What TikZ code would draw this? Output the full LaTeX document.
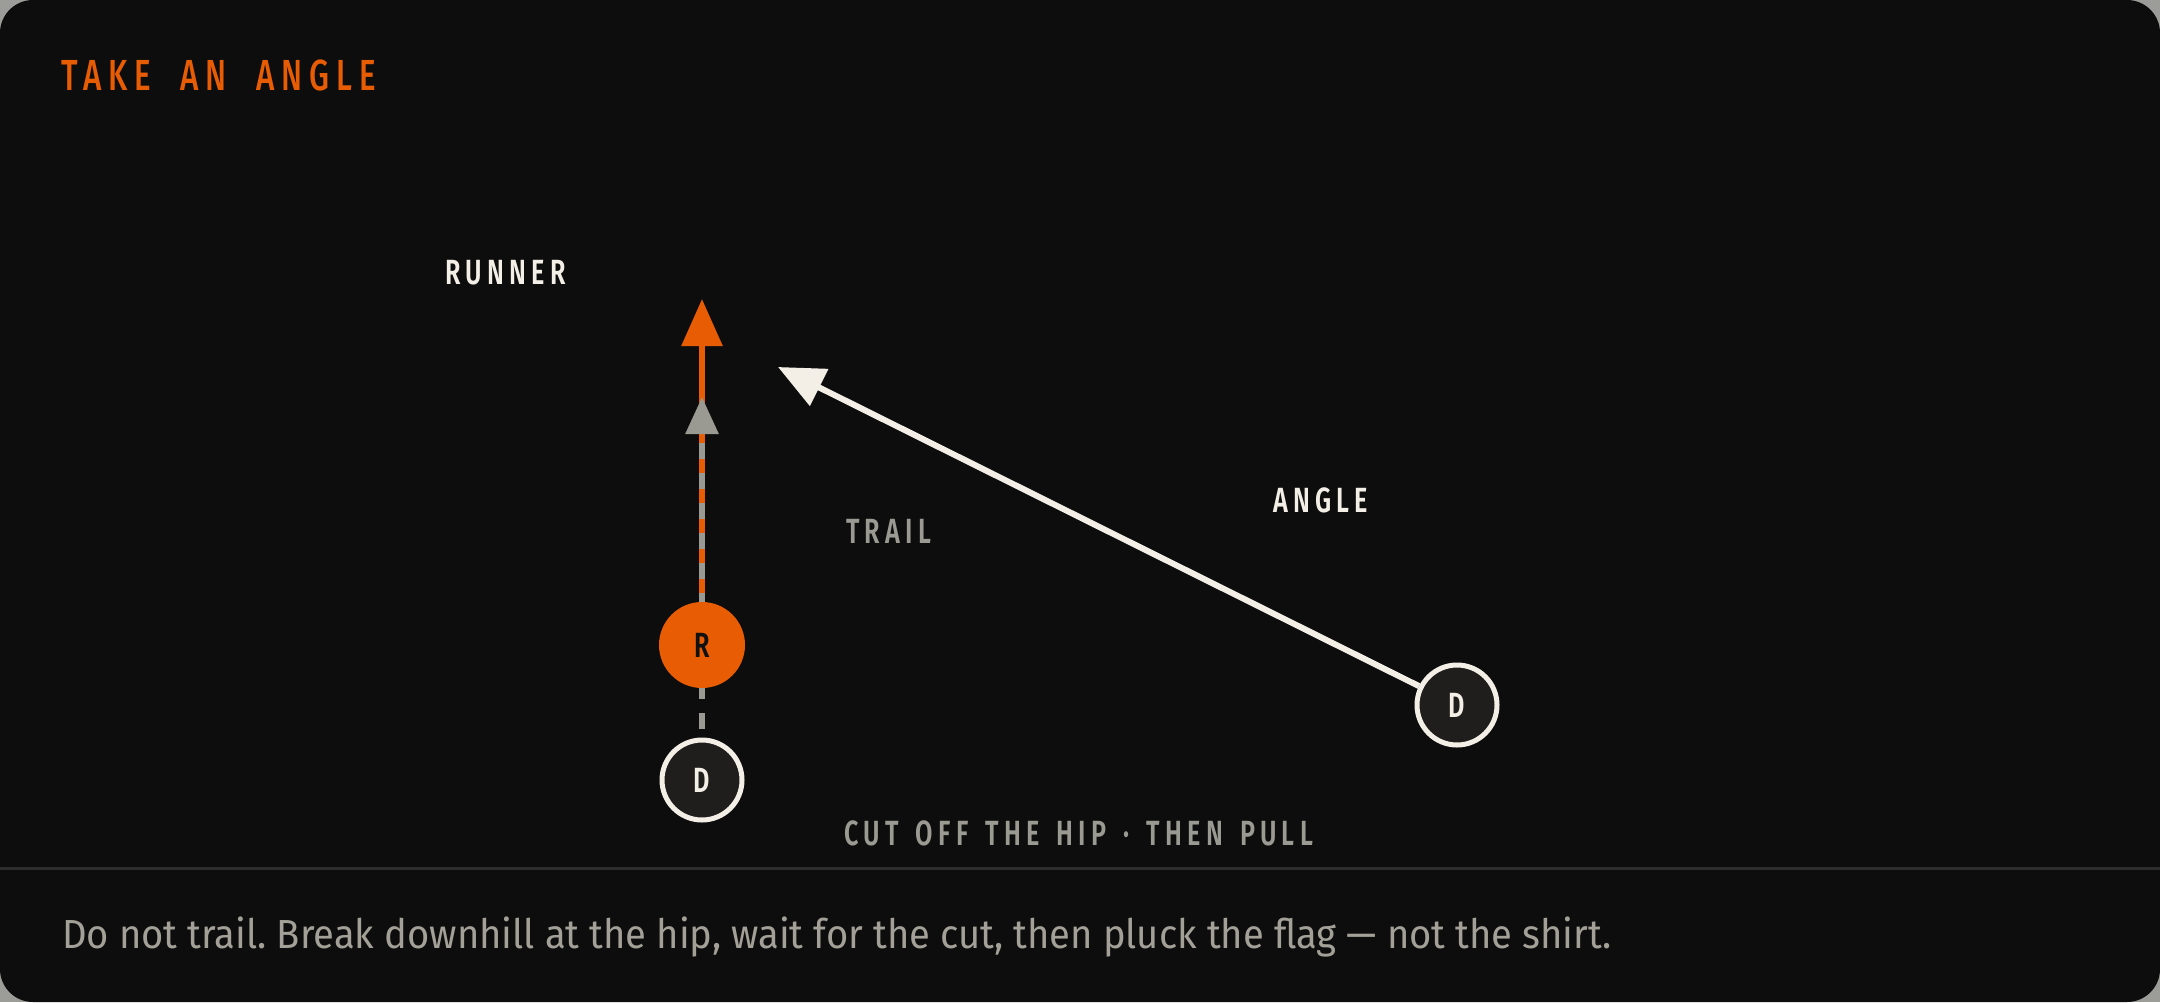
\documentclass[tikz,border=0pt]{standalone}
\usepackage{fontspec}
\usetikzlibrary{arrows.meta}
\setmainfont{Fira Sans}
\newfontfamily\titlefont[FakeStretch=0.72,LetterSpace=16,WordSpace=2.0]{Fira Sans Medium}
\newfontfamily\labfont[FakeStretch=0.72,LetterSpace=15,WordSpace=1.5]{Fira Sans SemiBold}
\newfontfamily\disfont[FakeStretch=0.72]{Fira Sans SemiBold}
\newfontfamily\bodyfont[FakeStretch=0.94]{Fira Sans}
\definecolor{cardbg}{HTML}{0D0D0D}
\definecolor{outerbg}{HTML}{9C9C98}
\definecolor{accent}{HTML}{E85D04}
\definecolor{cream}{HTML}{F3EFE7}
\definecolor{graytrail}{HTML}{9A9A92}
\definecolor{dfill}{HTML}{1F1E1C}
\definecolor{divider}{HTML}{2C2C2C}
\definecolor{bodytext}{HTML}{A3A098}
\definecolor{darklabel}{HTML}{111111}
\tikzset{
  lbl/.style={anchor=base west,inner sep=0pt,font=\labfont\fontsize{35}{40}\selectfont},
  runnerdisc/.style={circle,fill=accent,minimum size=86pt,inner sep=0pt,text=darklabel,font=\disfont\fontsize{35}{40}\selectfont},
  defdisc/.style={circle,fill=dfill,draw=cream,line width=5pt,minimum size=80pt,inner sep=0pt,text=cream,font=\disfont\fontsize{35}{40}\selectfont},
  runpath/.style={draw=accent,line width=6pt,-{Triangle[length=47pt,width=40pt]}},
  trailpath/.style={draw=graytrail,line width=6pt,dash pattern=on 16pt off 14pt,dash phase=9pt,-{Triangle[length=37pt,width=32pt]}},
  anglepath/.style={draw=cream,line width=6pt,-{Triangle[length=46pt,width=40pt]}}
}
\begin{document}
\frenchspacing
\begin{tikzpicture}[x=1pt,y=-1pt]
\useasboundingbox (0,0) rectangle (2160,1002);
\fill[outerbg] (0,0) rectangle (2160,1002);
\fill[cardbg,rounded corners=33pt] (0,0) rectangle (2160,1002);
\fill[divider] (0,866.5) rectangle (2160,869.5);
% title
\node[anchor=base west,inner sep=0pt,text=accent,font=\titlefont\fontsize{43.5}{50}\selectfont] (title) at (61,90) {TAKE AN ANGLE};
% coordinates
\coordinate (rtip) at (702,299);
\coordinate (ttip) at (702,397);
\coordinate (atip) at (778,367);
\coordinate (rc) at (702,645);
\coordinate (dc) at (702,780);
% paths
\draw[runpath] (rc) -- (rtip);
\draw[trailpath] (dc) -- (ttip);
% discs
\node[runnerdisc] (r) at (rc) {R};
\node[defdisc] (d1) at (dc) {D};
\node[defdisc] (d2) at (1457,705) {D};
\draw[anglepath] (d2) -- (atip);
% labels
\node[lbl,text=cream] (runner) at (445,284) {RUNNER};
\node[lbl,text=graytrail] (trail) at (846,543) {TRAIL};
\node[lbl,text=cream] (angle) at (1273,512) {ANGLE};
\node[lbl,text=graytrail] (cut) at (844,845) {CUT OFF THE HIP · THEN PULL};
\node[anchor=base west,inner sep=0pt,text=bodytext,font=\bodyfont\fontsize{40.6}{48}\selectfont] (body) at (62,948) {Do not trail. Break downhill at the hip, wait for the cut, then pluck the flag — not the shirt.};
\end{tikzpicture}
\end{document}
